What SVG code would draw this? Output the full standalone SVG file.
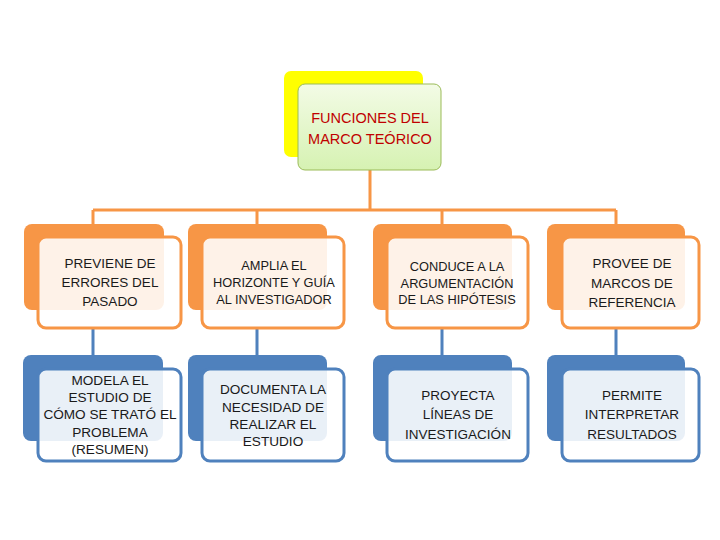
<svg xmlns="http://www.w3.org/2000/svg" width="720" height="540" viewBox="0 0 720 540">
<defs>
<linearGradient id="gGreen" x1="0" y1="0" x2="0" y2="1">
<stop offset="0" stop-color="#f3fbe6"/>
<stop offset="1" stop-color="#d6f2b2"/>
</linearGradient>
</defs>
<style>
text{font-family:"Liberation Sans",Arial,sans-serif;text-anchor:middle;fill:#1a1a1a}
.t{font-size:14.5px;fill:#c00000}
.s12{font-size:12.8px}
.s13{font-size:13.6px}
.s14{font-size:13.5px}
.bo{fill:#f79646}
.fo{fill:#ffffff;fill-opacity:0.88;stroke:#f79646;stroke-width:3}
.bb{fill:#4f81bd}
.fb{fill:#ffffff;fill-opacity:0.88;stroke:#4f81bd;stroke-width:3}
.co{fill:none;stroke:#f79646;stroke-width:3}
.cb{fill:none;stroke:#4f81bd;stroke-width:3}
</style>
<rect width="720" height="540" fill="#ffffff"/>
<g id="connectors">
<path class="co" d="M370 170V210M93 210H616M93 210V236M257 210V236M442 210V236M616 210V236"/>
<path class="cb" d="M93 329V355M257 329V355M442 329V355M616 329V355"/>
</g>
<g id="root">
<rect x="284" y="71" width="139" height="86" rx="7" fill="#ffff00"/>
<rect x="298" y="84" width="143" height="86" rx="7" fill="url(#gGreen)" stroke="#9bbb59" stroke-width="1"/>
<text class="t" x="370" y="123">FUNCIONES DEL</text>
<text class="t" x="370" y="144">MARCO TEÓRICO</text>
</g>
<g id="n1">
<rect class="bo" x="24" y="224" width="140" height="86" rx="8"/>
<rect class="fo" x="38" y="237" width="143" height="91" rx="8"/>
<text class="s14" x="110" y="268">PREVIENE DE</text>
<text class="s14" x="110" y="287">ERRORES DEL</text>
<text class="s14" x="110" y="306">PASADO</text>
</g>
<g id="n2">
<rect class="bo" x="188" y="224" width="139" height="86" rx="8"/>
<rect class="fo" x="202" y="237" width="142" height="91" rx="8"/>
<text class="s12" x="274" y="270">AMPLIA EL</text>
<text class="s12" x="274" y="287">HORIZONTE Y GUÍA</text>
<text class="s12" x="274" y="304">AL INVESTIGADOR</text>
</g>
<g id="n3">
<rect class="bo" x="373" y="224" width="139" height="86" rx="8"/>
<rect class="fo" x="387" y="237" width="141" height="91" rx="8"/>
<text class="s12" x="457" y="271">CONDUCE A LA</text>
<text class="s12" x="457" y="288">ARGUMENTACIÓN</text>
<text class="s12" x="457" y="304">DE LAS HIPÓTESIS</text>
</g>
<g id="n4">
<rect class="bo" x="547" y="224" width="138" height="86" rx="8"/>
<rect class="fo" x="562" y="237" width="137" height="91" rx="8"/>
<text class="s14" x="632" y="268">PROVEE DE</text>
<text class="s14" x="632" y="288">MARCOS DE</text>
<text class="s14" x="632" y="307">REFERENCIA</text>
</g>
<g id="n5">
<rect class="bb" x="23" y="355" width="140" height="86" rx="8"/>
<rect class="fb" x="38" y="369" width="143" height="92" rx="8"/>
<text class="s13" x="110" y="385">MODELA EL</text>
<text class="s13" x="110" y="402">ESTUDIO  DE</text>
<text class="s13" x="110" y="419">CÓMO SE TRATÓ EL</text>
<text class="s13" x="110" y="437">PROBLEMA</text>
<text class="s13" x="110" y="454">(RESUMEN)</text>
</g>
<g id="n6">
<rect class="bb" x="188" y="355" width="139" height="86" rx="8"/>
<rect class="fb" x="202" y="369" width="142" height="92" rx="8"/>
<text class="s13" x="273" y="394">DOCUMENTA LA</text>
<text class="s13" x="273" y="412">NECESIDAD DE</text>
<text class="s13" x="273" y="429">REALIZAR EL</text>
<text class="s13" x="273" y="446">ESTUDIO</text>
</g>
<g id="n7">
<rect class="bb" x="373" y="355" width="139" height="86" rx="8"/>
<rect class="fb" x="387" y="369" width="141" height="92" rx="8"/>
<text class="s14" x="458" y="400">PROYECTA</text>
<text class="s14" x="458" y="419">LÍNEAS DE</text>
<text class="s14" x="458" y="439">INVESTIGACIÓN</text>
</g>
<g id="n8">
<rect class="bb" x="547" y="355" width="138" height="86" rx="8"/>
<rect class="fb" x="562" y="369" width="137" height="92" rx="8"/>
<text class="s14" x="632" y="400">PERMITE</text>
<text class="s14" x="632" y="419">INTERPRETAR</text>
<text class="s14" x="632" y="439">RESULTADOS</text>
</g>
</svg>
